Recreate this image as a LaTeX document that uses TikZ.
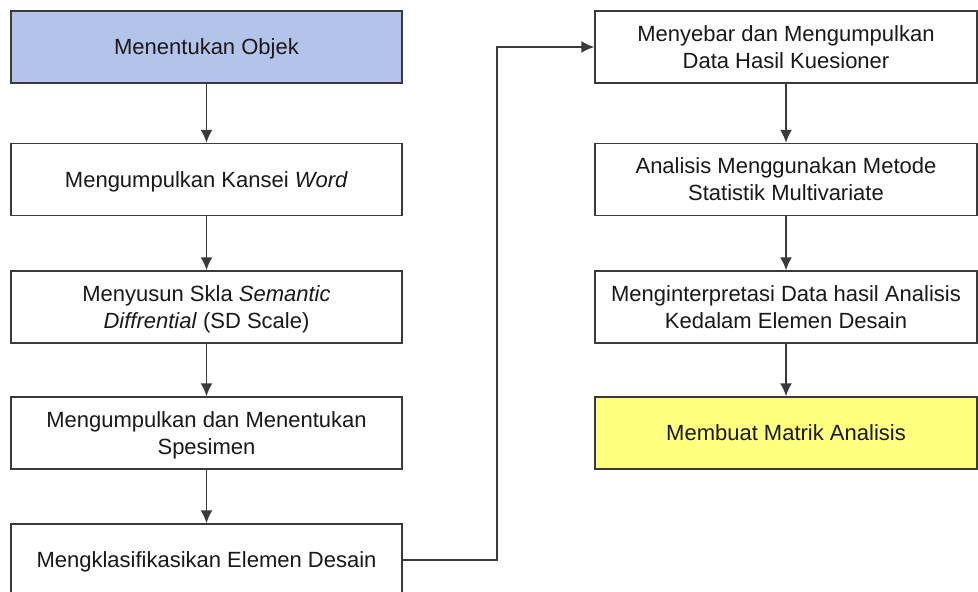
\documentclass[tikz,border=0pt]{standalone}
\usepackage{fontspec}
\setmainfont{Liberation Sans}
\usetikzlibrary{arrows.meta}

\definecolor{boxline}{HTML}{3A3A3A}
\definecolor{startblue}{HTML}{B3C3E9}
\definecolor{endyellow}{HTML}{FFFF80}

\tikzset{
  stepbox/.style={draw=boxline,line width=1.5pt,fill=white,minimum width=391pt,
    minimum height=72pt,inner sep=0pt,align=center,text=black!90,text depth=0pt,
    font=\fontsize{22}{27}\selectfont},
  rightbox/.style={stepbox,minimum width=382pt},
  flow/.style={draw=boxline,line width=1.5pt,-{Latex[length=13pt,width=12pt]}}
}

\begin{document}
\begin{tikzpicture}[x=1pt,y=-1pt]
\useasboundingbox (0,0) rectangle (978,592);
\clip (0,0) rectangle (978,592);
% kolom kiri
\node[stepbox,fill=startblue] (objek) at (206.5,47) {Menentukan Objek};
\node[stepbox] (kansei) at (206.5,179.5) {Mengumpulkan Kansei \textit{Word}};
\node[stepbox] (skala) at (206.5,307) {Menyusun Skla \textit{Semantic}\\\textit{Diffrential} (SD Scale)};
\node[stepbox] (spesimen) at (206.5,433) {Mengumpulkan dan Menentukan\\Spesimen};
\node[stepbox] (elemen) at (206.5,560) {Mengklasifikasikan Elemen Desain};
% kolom kanan
\node[rightbox] (kuesioner) at (786,47) {Menyebar dan Mengumpulkan\\Data Hasil Kuesioner};
\node[rightbox] (analisis) at (786,179.5) {Analisis Menggunakan Metode\\Statistik Multivariate};
\node[rightbox] (interpretasi) at (786,307) {Menginterpretasi Data hasil Analisis\\Kedalam Elemen Desain};
\node[rightbox,fill=endyellow] (matrik) at (786,433) {Membuat Matrik Analisis};
% panah
\draw[flow] (objek) -- (kansei);
\draw[flow] (kansei) -- (skala);
\draw[flow] (skala) -- (spesimen);
\draw[flow] (spesimen) -- (elemen);
\draw[flow] (elemen.east) -| (497,47) -- (kuesioner.west);
\draw[flow] (kuesioner) -- (analisis);
\draw[flow] (analisis) -- (interpretasi);
\draw[flow] (interpretasi) -- (matrik);
\end{tikzpicture}
\end{document}
